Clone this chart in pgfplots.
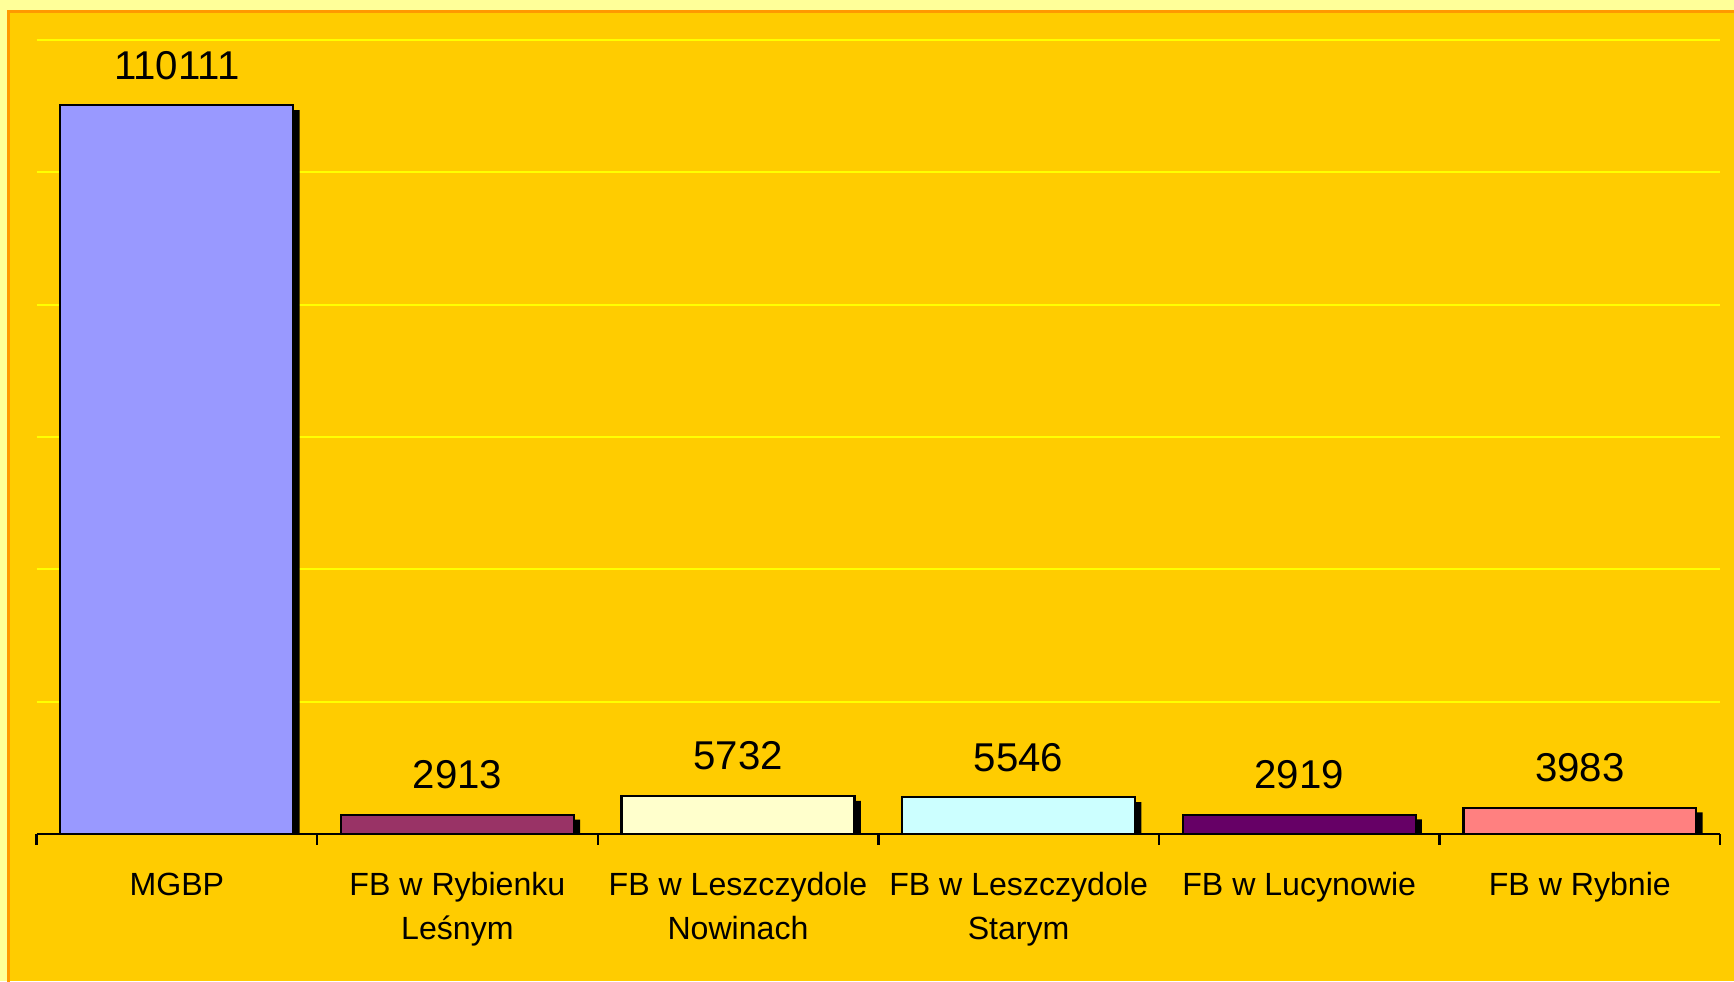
\documentclass[border=0pt]{standalone}
\usepackage{fontspec}
\setmainfont{Liberation Sans}
\usepackage{pgfplots}
\pgfplotsset{compat=1.18}
\definecolor{outerbg}{HTML}{FFFF99}
\definecolor{goldbg}{HTML}{FFCC00}
\definecolor{frameor}{HTML}{FF9900}
\definecolor{gridy}{HTML}{FFFF00}
\definecolor{c1}{HTML}{9999FF}
\definecolor{c2}{HTML}{993366}
\definecolor{c3}{HTML}{FFFFCC}
\definecolor{c4}{HTML}{CCFFFF}
\definecolor{c5}{HTML}{660066}
\definecolor{c6}{HTML}{FF8080}
\begin{document}
\begin{tikzpicture}
\useasboundingbox (-12.17pt,-49pt) rectangle (565.83pt,278pt);
\fill[outerbg] (-12.17pt,-49pt) rectangle (565.83pt,278pt);
\fill[goldbg] (-9.33pt,-49pt) rectangle (565.83pt,274.17pt);
\draw[frameor, line width=1pt] (-9.33pt,-50pt) -- (-9.33pt,274.17pt) -- (567pt,274.17pt);
\begin{axis}[
  at={(0pt,0pt)}, anchor=south west,
  scale only axis, width=561.2pt, height=264.7pt,
  xmin=-0.5, xmax=5.5, ymin=0, ymax=120000,
  scaled y ticks=false,
  axis x line*=bottom, axis y line*=left,
  y axis line style={draw=none},
  x axis line style={line width=0.9pt, black},
  ytick={20000,40000,60000,80000,100000,120000},
  yticklabels={}, ytick style={draw=none},
  ymajorgrids, grid style={gridy, line width=0.7pt},
  xtick={-0.5,0.5,...,5.5}, xticklabels={},
  tick align=outside, major tick length=3.5pt,
  xtick style={line width=0.8pt, black},
  extra x ticks={0,1,2,3,4,5},
  extra x tick labels={MGBP, {FB w Rybienku\\Leśnym}, {FB w Leszczydole\\Nowinach}, {FB w Leszczydole\\Starym}, {FB w Lucynowie}, {FB w Rybnie}},
  extra x tick style={major tick length=0pt, tick style={draw=none},
    xticklabel style={align=center, anchor=north, yshift=-12.7pt, font=\fontsize{10.7}{14.4}\selectfont, inner sep=0pt}},
  ybar, bar width=0.83, bar shift=0pt,
  clip=true,
  vlab/.style={nodes near coords, point meta=explicit symbolic,
    every node near coord/.append style={anchor=base, yshift=8.7pt, font=\fontsize{13.4}{15}\selectfont, text=black, inner sep=0pt}},
]
\addplot[fill=black, draw=none, xshift=2.1pt, yshift=-1.6pt] coordinates {(0,110111) (1,2913) (2,5732) (3,5546) (4,2919) (5,3983)};
\addplot[fill=c1, draw=black, line width=0.75pt, vlab] coordinates {(0,110111)[110111]};
\addplot[fill=c2, draw=black, line width=0.75pt, vlab] coordinates {(1,2913)[2913]};
\addplot[fill=c3, draw=black, line width=0.75pt, vlab] coordinates {(2,5732)[5732]};
\addplot[fill=c4, draw=black, line width=0.75pt, vlab] coordinates {(3,5546)[5546]};
\addplot[fill=c5, draw=black, line width=0.75pt, vlab] coordinates {(4,2919)[2919]};
\addplot[fill=c6, draw=black, line width=0.75pt, vlab] coordinates {(5,3983)[3983]};
\end{axis}
\end{tikzpicture}
\end{document}
